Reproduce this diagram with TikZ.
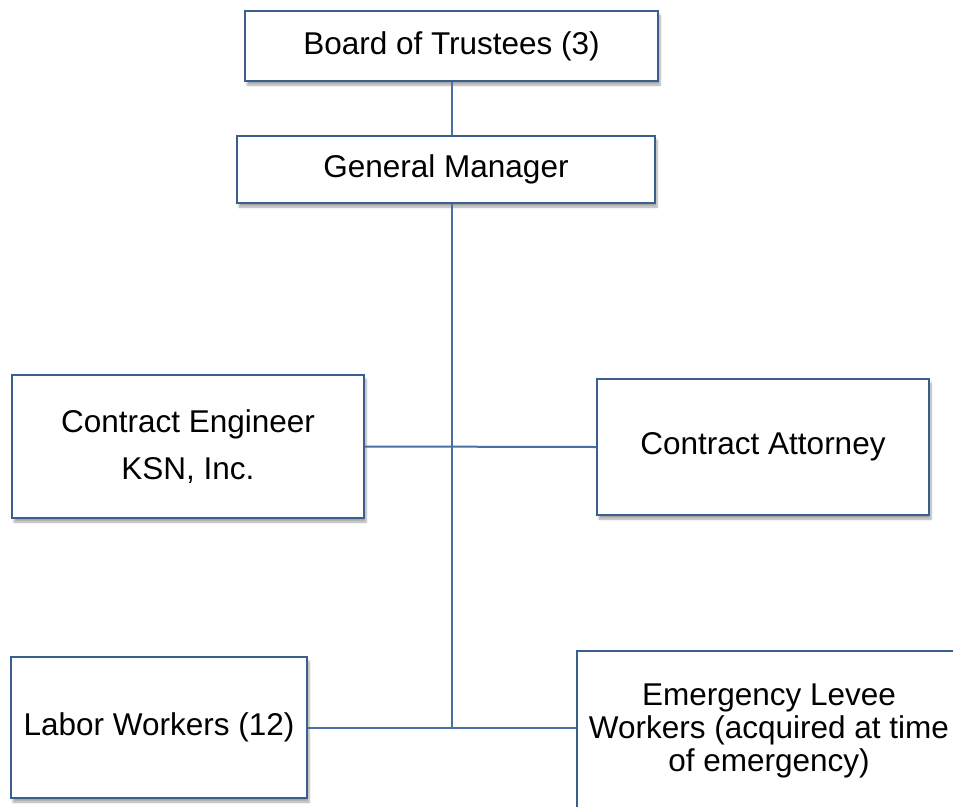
\documentclass[tikz,border=0pt]{standalone}
\usepackage{fontspec}
\setmainfont{Liberation Sans}
\usetikzlibrary{shadows.blur}
\definecolor{boxblue}{HTML}{3A5F8F}
\definecolor{linkblue}{HTML}{4A6FA3}
\tikzset{
  box/.style={draw=boxblue, line width=2pt, fill=white, rectangle, inner sep=0pt,
    align=center, font=\fontsize{31.5}{47}\selectfont,
    blur shadow={shadow xshift=2pt, shadow yshift=-4pt, shadow blur steps=6, shadow opacity=35}},
  link/.style={draw=linkblue, line width=2pt}
}
\begin{document}
\begin{tikzpicture}[x=1pt,y=-1pt]
\useasboundingbox (0,0) rectangle (953,806);
\node[box, minimum width=413pt, minimum height=70pt] (board) at (451.5,46) {Board of Trustees (3)};
\node[box, minimum width=418pt, minimum height=67pt] (gm) at (446,169.5) {General Manager};
\node[box, minimum width=352pt, minimum height=143pt] (eng) at (188,446.5) {Contract Engineer\\KSN, Inc.};
\node[box, minimum width=332pt, minimum height=136pt] (att) at (763,447) {Contract Attorney};
\node[box, minimum width=296pt, minimum height=141pt] (labor) at (159,727.5) {Labor Workers (12)};
\node[box, anchor=north west, minimum width=386pt, minimum height=175pt] (emerg) at (576,650) {};
\node[align=center, inner sep=0pt, font=\fontsize{31.5}{33}\selectfont] (emtext) at (769,731) {Emergency Levee\\Workers (acquired at time\\of emergency)};
\coordinate (t) at (451.5,728);
\draw[link] (board.south) -- (gm.north -| board.south);
\draw[link] (gm.south -| board.south) -- (t);
\draw[link] (eng.east) -- (att.west);
\draw[link] (labor.east) -- (emerg.west |- labor.east);
\end{tikzpicture}
\end{document}
